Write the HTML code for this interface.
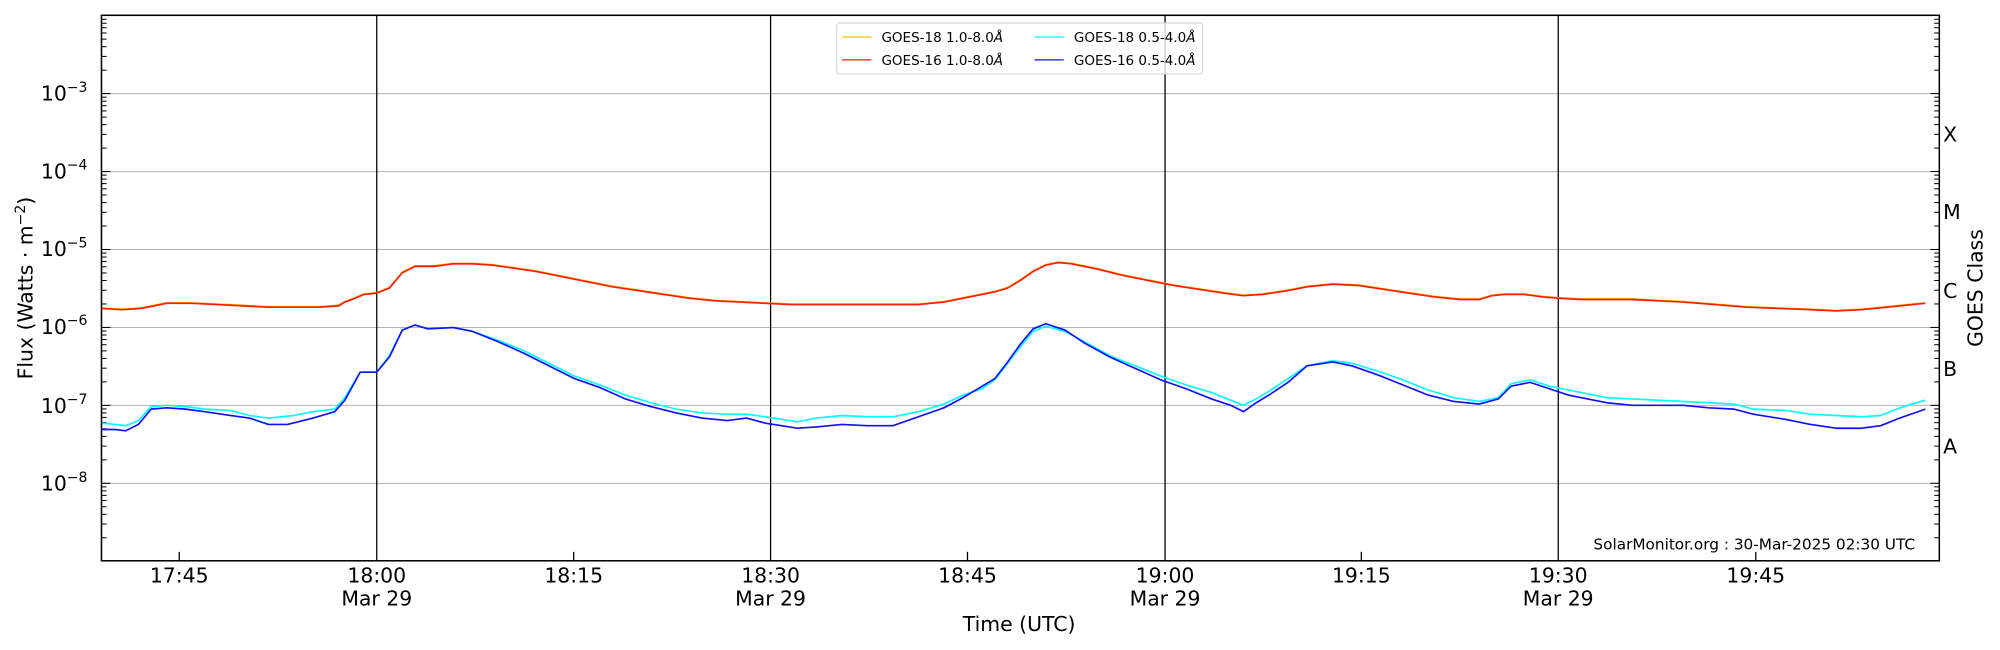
<!DOCTYPE html>
<html><head><meta charset="utf-8"><style>html,body{margin:0;padding:0;background:#fff}svg{display:block}text{font-family:"DejaVu Sans","Liberation Sans",sans-serif;fill:#000}</style></head>
<body>
<svg id="s" width="2000" height="650" viewBox="0 0 1568 510" xmlns="http://www.w3.org/2000/svg">
<g stroke="#b0b0b0" stroke-width="0.8">
<line x1="79" x2="1521" y1="73.5" y2="73.5"/><line x1="79" x2="1521" y1="134.7" y2="134.7"/><line x1="79" x2="1521" y1="195.8" y2="195.8"/><line x1="79" x2="1521" y1="257" y2="257"/><line x1="79" x2="1521" y1="318.1" y2="318.1"/><line x1="79" x2="1521" y1="379.3" y2="379.3"/>
</g>
<g stroke="#000" stroke-width="1">
<line x1="295" x2="295" y1="12" y2="440"/><line x1="604" x2="604" y1="12" y2="440"/><line x1="913.5" x2="913.5" y1="12" y2="440"/><line x1="1222" x2="1222" y1="12" y2="440"/>
<line x1="140" x2="140" y1="440" y2="433"/><line x1="449.5" x2="449.5" y1="440" y2="433"/><line x1="758.5" x2="758.5" y1="440" y2="433"/><line x1="1067.5" x2="1067.5" y1="440" y2="433"/><line x1="1377" x2="1377" y1="440" y2="433"/>
</g>
<g id="ticks" stroke="#000" stroke-width="0.8"></g>
<g fill="none" stroke-width="1.3" stroke-linejoin="round">
<polyline id="red" stroke="#ffc000" />
<polyline id="red2" stroke="#ff1a00" />
<polyline id="cyan" stroke="#00ffff" />
<polyline id="blue" stroke="#1010ff" />
</g>
<rect x="79" y="12" width="1442" height="428" fill="none" stroke="#000" stroke-width="1.2"/>
<g font-size="16" text-anchor="end">
<text x="68" y="79">10<tspan font-size="11" dy="-7">−3</tspan></text>
<text x="68" y="140">10<tspan font-size="11" dy="-7">−4</tspan></text>
<text x="68" y="201">10<tspan font-size="11" dy="-7">−5</tspan></text>
<text x="68" y="262">10<tspan font-size="11" dy="-7">−6</tspan></text>
<text x="68" y="324">10<tspan font-size="11" dy="-7">−7</tspan></text>
<text x="68" y="385">10<tspan font-size="11" dy="-7">−8</tspan></text>
</g>
<g font-size="16" text-anchor="middle">
<text x="140" y="457">17:45</text>
<text x="295" y="457">18:00</text><text x="295" y="475">Mar 29</text>
<text x="449.5" y="457">18:15</text>
<text x="604" y="457">18:30</text><text x="604" y="475">Mar 29</text>
<text x="758.5" y="457">18:45</text>
<text x="913.5" y="457">19:00</text><text x="913.5" y="475">Mar 29</text>
<text x="1067.5" y="457">19:15</text>
<text x="1222" y="457">19:30</text><text x="1222" y="475">Mar 29</text>
<text x="1377" y="457">19:45</text>
<text x="799" y="495">Time (UTC)</text>
<text transform="translate(25,226) rotate(-90)">Flux (Watts · m<tspan font-size="11" dy="-6">−2</tspan><tspan dy="6">)</tspan></text>
<text transform="translate(1555,226) rotate(-90)">GOES Class</text>
</g>
<g font-size="16">
<text x="1524" y="111">X</text><text x="1524" y="172">M</text><text x="1524" y="234">C</text><text x="1524" y="295">B</text><text x="1524" y="356">A</text>
</g>
<text x="1502" y="431" font-size="12" text-anchor="end">SolarMonitor.org : 30-Mar-2025 02:30 UTC</text>
<g>
<rect x="656" y="18" width="287" height="40" rx="2" fill="#fff" fill-opacity="0.8" stroke="#d0d0d0" stroke-width="0.8"/>
<line x1="660" x2="683" y1="29" y2="29" stroke="#ffc000" stroke-width="1"/>
<line x1="660" x2="683" y1="47" y2="47" stroke="#ff1a00" stroke-width="1"/>
<line x1="811" x2="834" y1="29" y2="29" stroke="#00ffff" stroke-width="1"/>
<line x1="811" x2="834" y1="47" y2="47" stroke="#1010ff" stroke-width="1"/>
<g font-size="10.6">
<text x="691" y="33">GOES-18 1.0-8.0<tspan font-style="italic">Å</tspan></text>
<text x="691" y="51">GOES-16 1.0-8.0<tspan font-style="italic">Å</tspan></text>
<text x="842" y="33">GOES-18 0.5-4.0<tspan font-style="italic">Å</tspan></text>
<text x="842" y="51">GOES-16 0.5-4.0<tspan font-style="italic">Å</tspan></text>
</g>
</g>
</svg>
<script>
var red=[79,242,95,243,110,242,120,240,130,238,150,238,170,239,190,240,210,241,230,241,250,241,265,240,270,237,278,234,285,231,295,230,305,226,315,214,325,209,340,209,355,207,370,207,385,208,400,210,420,213,440,217,460,221,480,225,500,228,520,231,540,234,560,236,580,237,600,238,620,239,640,239,660,239,680,239,700,239,720,239,740,237,750,235,760,233,770,231,780,229,790,226,800,220,810,213,820,208,830,206,840,207,860,211,880,216,900,220,920,224,940,227,960,230,975,232,990,231,1010,228,1025,225,1045,223,1065,224,1085,227,1105,230,1125,233,1145,235,1160,235,1170,232,1180,231,1195,231,1210,233,1222,234,1240,235,1260,235,1280,235,1300,236,1320,237,1345,239,1370,241,1395,242,1420,243,1440,244,1460,243,1480,241,1500,239,1510,238];
var cyan=[79,332,90,333,98,334,108,330,118,319,130,318,145,319,160,321,180,322,195,326,210,328,230,326,245,323,262,321,270,312,282,292,295,292,305,279,315,259,325,255,335,258,355,257,370,260,390,267,410,275,430,285,450,295,470,302,490,310,510,316,530,321,550,324,570,325,585,325,600,327,625,331,640,328,660,326,680,327,700,327,720,323,740,317,755,310,770,305,780,298,790,285,800,272,810,260,820,256,835,260,850,268,870,279,890,287,910,295,930,302,950,308,965,314,975,318,985,313,995,307,1010,297,1025,287,1045,283,1060,285,1080,291,1100,298,1120,306,1140,312,1160,315,1175,312,1185,301,1200,298,1215,303,1230,306,1245,309,1260,312,1280,313,1300,314,1320,315,1340,316,1360,317,1375,321,1400,322,1420,325,1440,326,1460,327,1475,326,1490,320,1510,314];
var blue=[79,337,90,337,98,338,108,333,118,321,130,320,145,321,160,323,180,326,195,328,210,333,225,333,245,328,262,323,270,314,282,292,295,292,305,280,315,259,325,255,335,258,355,257,370,260,390,268,410,277,430,287,450,297,470,304,490,313,510,319,530,324,550,328,570,330,585,328,600,332,625,336,640,335,660,333,680,334,700,334,720,327,740,320,755,312,770,303,780,297,790,284,800,270,810,258,820,254,835,259,850,269,870,280,890,289,910,298,930,305,950,313,965,318,975,323,985,316,995,310,1010,300,1025,287,1045,284,1060,287,1080,294,1100,302,1120,310,1140,315,1160,317,1175,313,1185,303,1200,300,1215,305,1230,310,1245,313,1260,316,1280,318,1300,318,1320,318,1340,320,1360,321,1375,325,1400,329,1420,333,1440,336,1460,336,1475,334,1490,328,1510,321];
function pts(a,o){var s=[];for(var i=0;i<a.length;i+=2)s.push(a[i]+","+(a[i+1]+(o||0)));return s.join(" ");}
document.getElementById("red").setAttribute("points",pts(red,-0.4));
document.getElementById("red2").setAttribute("points",pts(red));
document.getElementById("cyan").setAttribute("points",pts(cyan));
document.getElementById("blue").setAttribute("points",pts(blue));
var g=document.getElementById("ticks"),ns="http://www.w3.org/2000/svg",D=61.15,top0=12.3;
for(var d=0;d<7;d++){for(var m=1;m<10;m++){var y=top0+(d+1)*D-Math.log10(m)*D;if(y<12||y>440)continue;var L=m==1?7:4;
[[79,79+L],[1521,1521-L]].forEach(function(p){var l=document.createElementNS(ns,"line");l.setAttribute("x1",p[0]);l.setAttribute("x2",p[1]);l.setAttribute("y1",y);l.setAttribute("y2",y);g.appendChild(l);});}}
</script>
</body></html>
